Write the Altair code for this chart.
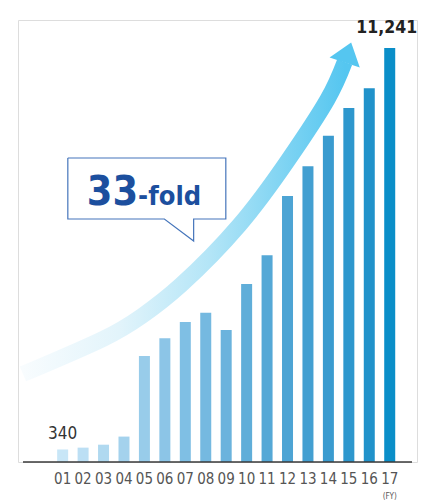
import altair as alt
import pandas as pd

# ---- data ----
years = ["01", "02", "03", "04", "05", "06", "07", "08", "09",
         "10", "11", "12", "13", "14", "15", "16", "17"]
values = [340, 390, 470, 690, 2880, 3360, 3800, 4050, 3585,
          4830, 5610, 7220, 8030, 8860, 9610, 10150, 11241]

first_label = "340"
last_label = "11,241"
callout_big = "33"
callout_small = "-fold"
fy_label = "(FY)"

# annotation geometry in data units (x = year index, y = value)
arrow_x = [-1.941, 1.970, 3.878, 5.785, 8.647, 11.032, 12.939, 13.797]
arrow_y = [2389, 3339, 3964, 4805, 6434, 8199, 9828, 10860]
head_x = [13.797]
head_y = [10846]
box_x = [0.253, 7.982, 7.982, 6.408, 6.408, 4.976, 0.253, 0.253]
box_y = [8254, 8254, 6597, 6597, 6000, 6597, 6597, 8254]
callout_anchor = (3.69, 6978)

FONT = "DejaVu Sans Condensed, Liberation Sans Narrow, Liberation Sans, sans-serif"

xs = alt.Scale(domain=[-1.94, 17.09], nice=False, zero=False)
ys = alt.Scale(domain=[0, 12000], nice=False, zero=True)

bars_df = pd.DataFrame({"i": list(range(len(years))), "year": years, "value": values})
arrow_df = pd.DataFrame({"x": arrow_x, "y": arrow_y, "o": list(range(len(arrow_x)))})
head_df = pd.DataFrame({"x": head_x, "y": head_y})
box_df = pd.DataFrame({"x": box_x, "y": box_y, "o": list(range(len(box_x)))})
anchor_df = pd.DataFrame({"x": [callout_anchor[0]], "y": [callout_anchor[1]]})

X = alt.X("x:Q", scale=xs, axis=None)
Y = alt.Y("y:Q", scale=ys, axis=None)

# axis baseline
base = alt.Chart(pd.DataFrame({"x": [-1.94], "x2": [17.09], "y": [0]})).mark_rule(
    color="#3a3a3a", strokeWidth=1.5
).encode(x=X, x2="x2:Q", y=Y)

arrow = alt.Chart(arrow_df).mark_line(
    interpolate="natural",
    strokeWidth=16,
    strokeCap="butt",
    color=alt.Gradient(
        gradient="linear",
        stops=[
            alt.GradientStop(color="#f8fcfe", offset=0),
            alt.GradientStop(color="#e2f4fb", offset=0.3),
            alt.GradientStop(color="#b3e5f7", offset=0.58),
            alt.GradientStop(color="#86d6f3", offset=0.78),
            alt.GradientStop(color="#55c6f0", offset=1),
        ],
        x1=0, x2=1, y1=0, y2=0,
    ),
).encode(x=X, y=Y, order="o:Q")

head = alt.Chart(head_df).mark_point(
    shape="M-1,0L1,0L0,-1.32Z", filled=True, opacity=1, color="#55c6f0",
    size=1011, angle=18, strokeWidth=0
).encode(x=X, y=Y)

bars = alt.Chart(bars_df).mark_bar(size=11).encode(
    x=alt.X("i:Q", scale=xs, axis=None),
    y=alt.Y("value:Q", scale=ys, axis=None),
    color=alt.Color("i:Q", legend=None, scale=alt.Scale(
        domain=[0, 6, 10, 16],
        range=["#c8e6f7", "#7fbfe4", "#55a8d6", "#0a8ec8"])),
)

xlabels = alt.Chart(bars_df).mark_text(
    font=FONT, fontSize=15, color="#555555", baseline="middle", dy=17
).encode(x=alt.X("i:Q", scale=xs, axis=None), y=alt.value(442), text="year:N")

fy = alt.Chart(pd.DataFrame({"i": [16], "t": [fy_label]})).mark_text(
    font=FONT, fontSize=8, color="#555555", baseline="middle"
).encode(x=alt.X("i:Q", scale=xs, axis=None), y=alt.value(477), text="t:N")

first = alt.Chart(pd.DataFrame({"i": [0], "v": [values[0]], "t": [first_label]})).mark_text(
    font=FONT, fontSize=17, color="#333333", baseline="bottom", dy=-6
).encode(x=alt.X("i:Q", scale=xs, axis=None), y=alt.Y("v:Q", scale=ys, axis=None), text="t:N")

last = alt.Chart(pd.DataFrame({"i": [16], "v": [values[-1]], "t": [last_label]})).mark_text(
    font=FONT, fontSize=17.5, fontWeight="bold", color="#222222", baseline="bottom", dy=-11, dx=-3
).encode(x=alt.X("i:Q", scale=xs, axis=None), y=alt.Y("v:Q", scale=ys, axis=None), text="t:N")

box_fill = alt.Chart(pd.DataFrame({"x": [box_x[0]], "x2": [box_x[1]], "y": [box_y[2]], "y2": [box_y[0]]})).mark_rect(
    color="white"
).encode(x=X, x2="x2:Q", y=Y, y2="y2:Q")

box_line = alt.Chart(box_df).mark_line(
    color="#4575bb", strokeWidth=1.2, strokeJoin="miter"
).encode(x=X, y=Y, order="o:Q")

big = alt.Chart(anchor_df.assign(t=callout_big)).mark_text(
    font=FONT, fontSize=41, fontWeight="bold", color="#1c4f9e", align="right", baseline="alphabetic"
).encode(x=X, y=Y, text="t:N")

small = alt.Chart(anchor_df.assign(t=callout_small)).mark_text(
    font=FONT, fontSize=27, fontWeight="bold", color="#1c4f9e", align="left", baseline="alphabetic"
).encode(x=X, y=Y, text="t:N")

chart = alt.layer(
    arrow, head, bars, base, xlabels, fy, first, last, box_fill, box_line, big, small
).properties(
    width=399, height=442,
    autosize=alt.AutoSizeParams(type="none"),
    padding={"left": 18, "top": 20, "right": 4, "bottom": 39},
).configure_view(stroke=None).configure(background="white")

chart.save("out.html", embed_options={"renderer": "svg", "actions": False})
